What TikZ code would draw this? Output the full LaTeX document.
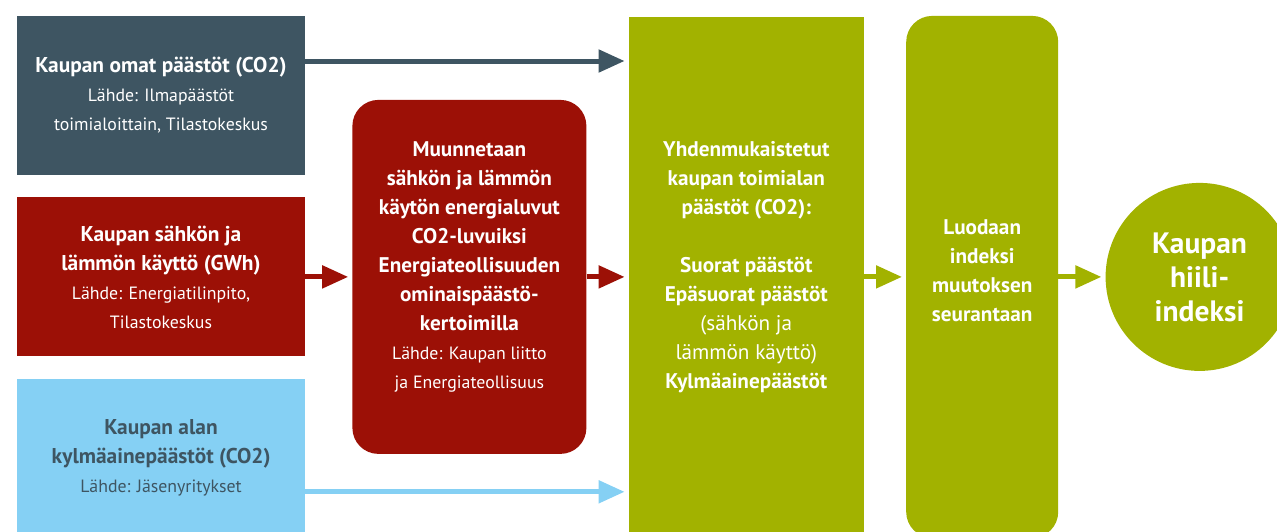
\documentclass[tikz,border=0pt]{standalone}
\usepackage{fontspec}
\setmainfont{PT Sans}
\usepackage{tikz}
\usetikzlibrary{positioning}
\usetikzlibrary{shapes,arrows.meta}
\definecolor{slate}{RGB}{62,85,98}
\definecolor{darkred}{RGB}{156,16,6}
\definecolor{skyblue}{RGB}{133,208,244}
\definecolor{olive}{RGB}{162,178,0}
\newcommand{\lahde}{\mdseries\fontsize{17.8}{28}\selectfont}
\tikzstyle{srcbox} = [rectangle, fill=slate, text=white, align=center,
                minimum width=288pt, minimum height=159pt, inner sep=0pt,
                font=\bfseries\fontsize{21.4}{29}\selectfont]
\tikzstyle{stage} = [rectangle, text=white, align=center, inner sep=0pt,
                font=\bfseries\fontsize{21.2}{29}\selectfont]
\tikzstyle{flow} = [draw, line width=5pt, -{Triangle[length=26pt,width=22pt]}, shorten >=4pt]

\begin{document}
\begin{tikzpicture}[x=1pt,y=1pt]
        \useasboundingbox (0,0) rectangle (1277,-531);
        \node[srcbox](omat) at (161,-95.5){Kaupan omat päästöt (CO2)\\ {\lahde Lähde: Ilmapäästöt}\\ {\lahde toimialoittain, Tilastokeskus}};
        \node[srcbox, fill=darkred, below=22pt of omat](sahko){Kaupan sähkön ja\\ lämmön käyttö (GWh)\\ {\lahde Lähde: Energiatilinpito,}\\ {\lahde Tilastokeskus}};
        \node[srcbox, fill=skyblue, text=slate, below=22pt of sahko](kylma){Kaupan alan\\ kylmäainepäästöt (CO2)\\ {\lahde Lähde: Jäsenyritykset}};
        \node[stage, fill=darkred, rounded corners=26pt, minimum width=234pt, minimum height=354pt, text depth=24pt, right=47pt of sahko](muunnos){Muunnetaan\\ sähkön ja lämmön\\ käytön energialuvut\\ CO2-luvuiksi\\ Energiateollisuuden\\ ominaispäästö-\\ kertoimilla\\ {\lahde Lähde: Kaupan liitto}\\ {\lahde ja Energiateollisuus}};
        \node[stage, fill=olive, minimum width=235pt, minimum height=520pt, text depth=24pt, right=42pt of muunnos](yhd){Yhdenmukaistetut\\ kaupan toimialan\\ päästöt (CO2):\\[29pt] Suorat päästöt\\ Epäsuorat päästöt\\ {\mdseries (sähkön ja}\\ {\mdseries lämmön käyttö)}\\ Kylmäainepäästöt};
        \node[stage, fill=olive, rounded corners=26pt, minimum width=152pt, minimum height=522pt, text depth=13pt, right=42pt of yhd](luodaan){Luodaan\\ indeksi\\ muutoksen\\ seurantaan};
        \node[circle, fill=olive, text=white, align=center, inner sep=0pt, minimum size=188pt,
              font=\bfseries\fontsize{29.5}{34}\selectfont, right=47pt of luodaan](hiili){Kaupan\\ hiili-\\ indeksi};
        \path[flow, slate] ([yshift=34.5pt]omat.east) -- ([yshift=34.5pt]omat.east -| yhd.west);
        \path[flow, darkred] (sahko) -- (muunnos);
        \path[flow, darkred] (muunnos) -- (muunnos -| yhd.west);
        \path[flow, skyblue] ([yshift=-33.5pt]kylma.east) -- ([yshift=-33.5pt]kylma.east -| yhd.west);
        \path[flow, olive] (yhd) -- (luodaan);
        \path[flow, olive] (luodaan) -- (hiili);
    \end{tikzpicture}
\end{document}
